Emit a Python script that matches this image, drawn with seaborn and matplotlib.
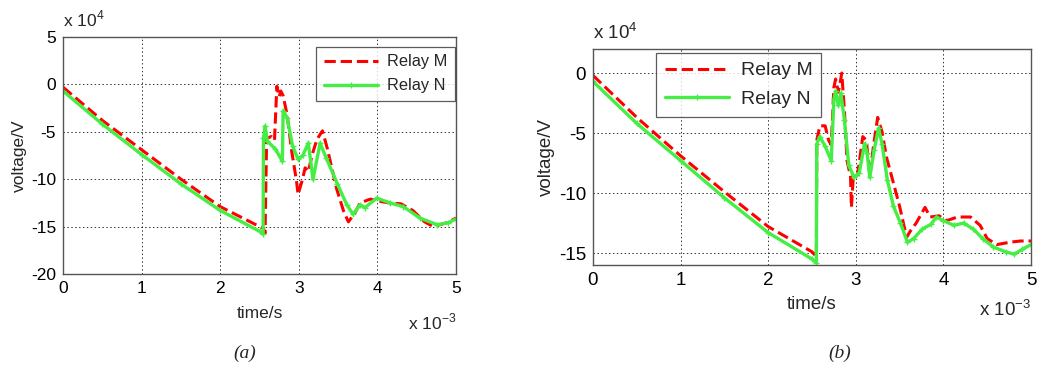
import matplotlib
matplotlib.use("Agg")
import matplotlib.pyplot as plt
import seaborn as sns
import pandas as pd

# ---- data (time in units of 1e-3 s, voltage in units of 1e4 V) ----
a_m_t = [0, 0.5, 1.0, 1.5, 2.0, 2.5, 2.55, 2.57, 2.59, 2.65, 2.69, 2.72, 2.75, 2.77, 2.8, 2.85,
         2.91, 2.97, 2.99, 3.04, 3.08, 3.12, 3.17, 3.23, 3.3, 3.36, 3.48, 3.57, 3.63, 3.71, 3.78,
         3.91, 4.0, 4.15, 4.3, 4.45, 4.6, 4.71, 4.88, 5.0]
a_m_v = [-0.3, -3.8, -6.9, -10.0, -12.9, -15.0, -15.2, -15.7, -5.7, -5.5, -5.9, -0.2, -1.3, -0.7, -1.2, -3.2,
         -7.1, -10.2, -11.6, -10.2, -8.8, -9.2, -7.4, -5.8, -4.9, -6.7, -11.0, -13.4, -14.5, -13.6, -12.5,
         -12.1, -12.3, -12.5, -12.6, -13.3, -14.5, -15.0, -14.6, -14.1]
a_n_t = [0, 0.5, 1.0, 1.5, 2.0, 2.5, 2.545, 2.55, 2.57, 2.6, 2.7, 2.79, 2.8, 2.85, 2.92, 2.99,
         3.05, 3.12, 3.18, 3.27, 3.35, 3.49, 3.61, 3.69, 3.78, 3.84, 3.99, 4.16, 4.33, 4.54, 4.76,
         4.9, 5.0]
a_n_v = [-0.7, -4.2, -7.4, -10.5, -13.3, -15.5, -15.8, -5.7, -4.4, -6.0, -6.8, -8.1, -2.8, -3.5, -6.5, -7.9,
         -7.5, -6.2, -10.0, -6.2, -7.8, -10.5, -12.7, -13.7, -12.7, -13.0, -12.0, -12.5, -12.9, -14.1, -14.8,
         -14.6, -14.2]

b_m_t = [0, 0.5, 1.0, 1.5, 2.0, 2.5, 2.55, 2.555, 2.59, 2.65, 2.69, 2.72, 2.75, 2.77, 2.8, 2.82, 2.84,
         2.87, 2.9, 2.94, 2.95, 2.97, 3.02, 3.08, 3.12, 3.16, 3.2, 3.25, 3.3, 3.35, 3.42, 3.5, 3.58,
         3.62, 3.69, 3.79, 3.85, 3.95, 4.04, 4.16, 4.31, 4.42, 4.5, 4.61, 4.76, 4.88, 5.0]
b_m_v = [-0.2, -3.7, -6.9, -9.9, -12.8, -14.9, -15.3, -5.6, -4.4, -4.4, -5.6, -6.0, -1.2, -0.5, -1.6, -0.9, 0.0,
         -3.1, -7.3, -8.6, -11.2, -8.9, -8.5, -5.3, -5.6, -8.5, -6.2, -3.7, -4.9, -7.0, -8.9, -11.1, -13.7,
         -13.2, -12.5, -11.2, -12.0, -11.9, -12.3, -12.0, -12.0, -12.7, -13.8, -14.3, -14.1, -14.0, -14.0]
b_n_t = [0, 0.5, 1.0, 1.5, 2.0, 2.5, 2.55, 2.555, 2.59, 2.65, 2.72, 2.75, 2.77, 2.8, 2.83, 2.87,
         2.92, 2.98, 3.04, 3.1, 3.13, 3.16, 3.21, 3.26, 3.3, 3.36, 3.43, 3.51, 3.59, 3.66, 3.76,
         3.86, 3.92, 4.0, 4.12, 4.23, 4.34, 4.45, 4.57, 4.71, 4.81, 4.9, 5.0]
b_n_v = [-0.7, -4.2, -7.3, -10.4, -13.3, -15.5, -15.8, -5.9, -5.3, -6.1, -7.3, -2.2, -1.5, -2.7, -1.7, -3.9,
         -7.7, -8.7, -8.3, -5.9, -6.7, -8.7, -6.4, -4.6, -5.9, -8.9, -11.1, -12.5, -14.1, -13.8, -13.0,
         -12.6, -12.0, -12.3, -12.7, -12.5, -13.0, -13.8, -14.5, -14.9, -15.1, -14.7, -14.3]

series_names = ["Relay M", "Relay N"]
a_yticks = [5, 0, -5, -10, -15, -20]
b_yticks = [0, -5, -10, -15]
xticks = [0, 1, 2, 3, 4, 5]

sns.set_style("white")
plt.rcParams["font.family"] = ["Liberation Sans", "DejaVu Sans"]
plt.rcParams["mathtext.fontset"] = "custom"
plt.rcParams["mathtext.rm"] = "Liberation Sans"

fig = plt.figure(figsize=(10.37, 3.71), dpi=100)
ax_a = fig.add_axes([0.0608, 0.2615, 0.3790, 0.6388])
ax_b = fig.add_axes([0.5718, 0.2857, 0.4224, 0.5822])

RED = "#ff0000"
GREEN = "#44ee44"


def draw(ax, mt, mv, nt, nv, ylim, yticks, fs, lfs, legbox, lpad):
    dm = pd.DataFrame({"t": mt, "v": mv})
    dn = pd.DataFrame({"t": nt, "v": nv})
    sns.lineplot(data=dm, x="t", y="v", ax=ax, sort=False, estimator=None,
                 color=RED, linestyle="--", linewidth=2.2, label=series_names[0])
    sns.lineplot(data=dn, x="t", y="v", ax=ax, sort=False, estimator=None,
                 color=GREEN, linewidth=2.4, marker="+", markersize=4,
                 markeredgewidth=1.0, markeredgecolor=GREEN, label=series_names[1])
    ax.set_xlim(0, 5)
    ax.set_ylim(*ylim)
    ax.set_xticks(xticks)
    ax.set_yticks(yticks)
    ax.set_xticklabels([str(x) for x in xticks], fontsize=fs)
    ax.set_yticklabels([str(y) for y in yticks], fontsize=fs)
    ax.grid(True, color="black", linestyle=(0, (1.5, 2.5)), linewidth=0.7, alpha=0.8)
    ax.tick_params(direction="in", length=3, width=0.6, colors="black", pad=5)
    for s in ax.spines.values():
        s.set_color("#555555")
        s.set_linewidth(1.0)
    ax.set_xlabel("time/s", fontsize=fs, labelpad=lpad)
    ax.set_ylabel("voltage/V", fontsize=fs, labelpad=3)
    leg = ax.legend(loc="upper left", bbox_to_anchor=legbox, fontsize=lfs, frameon=True,
                    fancybox=False, handlelength=3.3, numpoints=1, borderpad=0.45,
                    labelspacing=0.55, handletextpad=0.6, borderaxespad=0)
    leg.get_frame().set_edgecolor("#333333")
    leg.get_frame().set_linewidth(0.9)
    ax.text(0.0, 1.03, r"x 10$^{4}$", transform=ax.transAxes, fontsize=fs, ha="left", va="bottom")
    ax.text(1.0, -0.16, r"x 10$^{-3}$", transform=ax.transAxes, fontsize=fs, ha="right", va="top")


draw(ax_a, a_m_t, a_m_v, a_n_t, a_n_v, (-20, 5), a_yticks, 12.5, 11.8, (0.644, 0.958), 7)
draw(ax_b, b_m_t, b_m_v, b_n_t, b_n_v, (-16, 2), b_yticks, 13.5, 14, (0.144, 0.981), 5)

fig.text(245 / 1037, 1 - 353 / 371, "(a)", fontsize=14, style="italic",
         family=["Liberation Serif", "DejaVu Serif"], ha="center", va="center")
fig.text(840 / 1037, 1 - 353 / 371, "(b)", fontsize=14, style="italic",
         family=["Liberation Serif", "DejaVu Serif"], ha="center", va="center")

fig.savefig("out.png", dpi=100)
